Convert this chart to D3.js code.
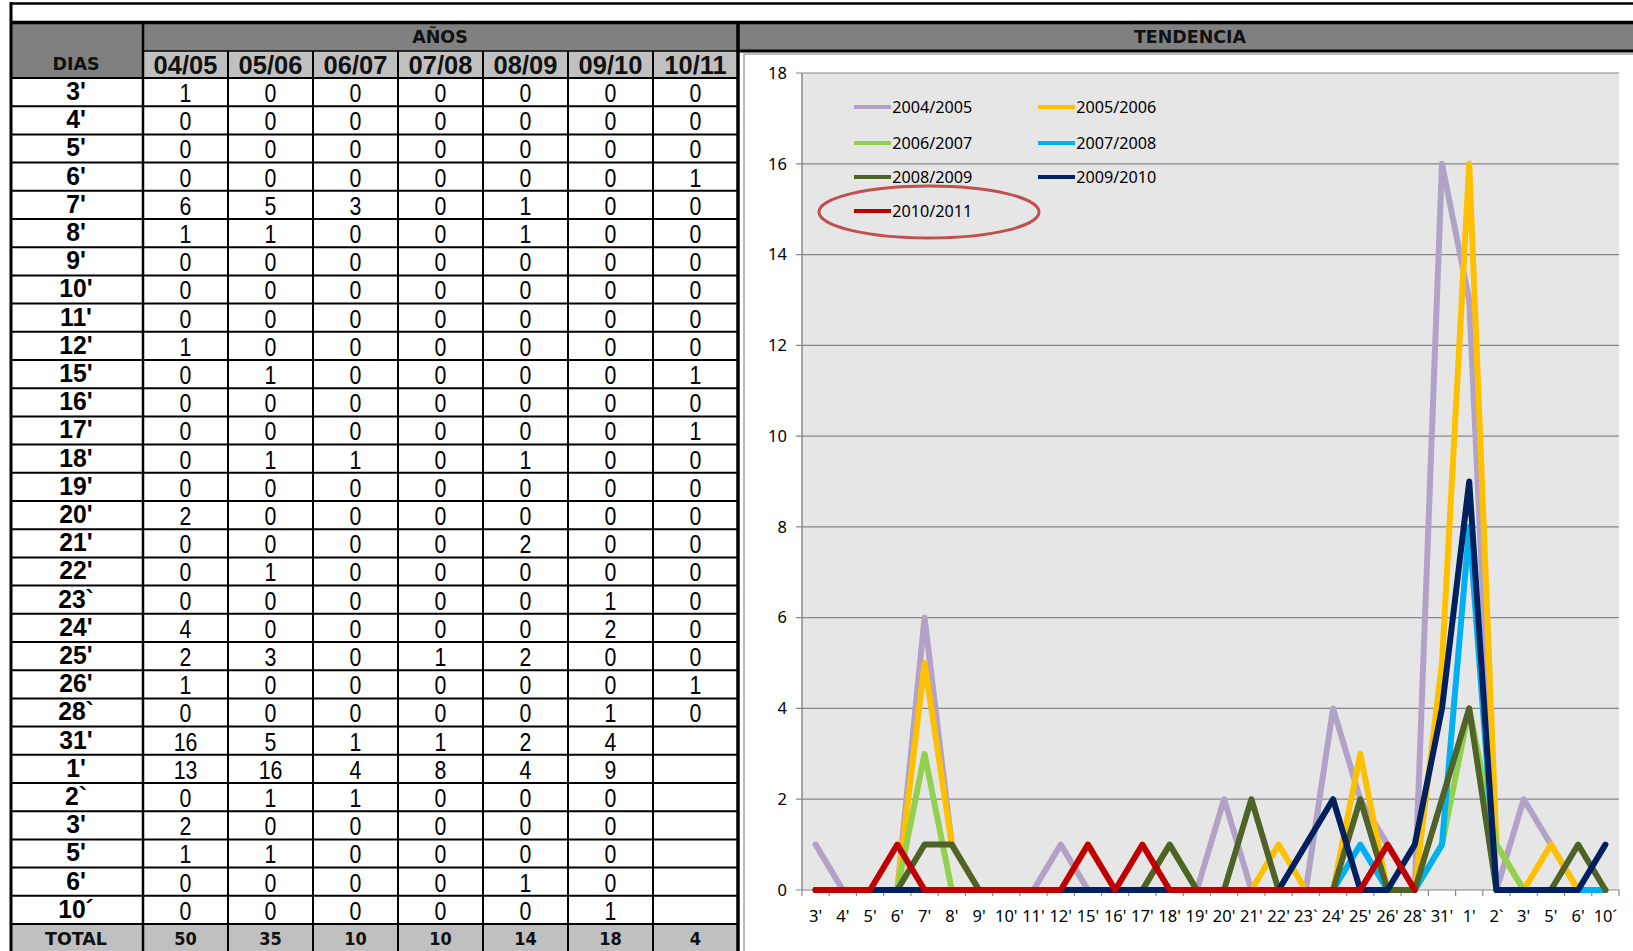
<!DOCTYPE html>
<html>
<head>
<meta charset="utf-8">
<script src="https://cdn.jsdelivr.net/npm/d3@7"></script>
<style>
  body { margin: 0; background: #fff; }
  svg { display: block; }
</style>
</head>
<body>
<svg width="1633" height="951"></svg>
<script>
// table + chart data
var days = ["3'", "4'", "5'", "6'", "7'", "8'", "9'", "10'", "11'", "12'",
            "15'", "16'", "17'", "18'", "19'", "20'", "21'", "22'", "23`", "24'",
            "25'", "26'", "28`", "31'", "1'", "2`", "3'", "5'", "6'", "10´"];
var years = ["04/05", "05/06", "06/07", "07/08", "08/09", "09/10", "10/11"];
var seriesNames = ["2004/2005", "2005/2006", "2006/2007", "2007/2008", "2008/2009", "2009/2010", "2010/2011"];

var y0405 = [1,0,0,0,6,1,0,0,0,1, 0,0,0,0,0,2,0,0,0,4, 2,1,0,16,13,0,2,1,0,0];
var y0506 = [0,0,0,0,5,1,0,0,0,0, 1,0,0,1,0,0,0,1,0,0, 3,0,0,5,16,1,0,1,0,0];
var y0607 = [0,0,0,0,3,0,0,0,0,0, 0,0,0,1,0,0,0,0,0,0, 0,0,0,1,4,1,0,0,0,0];
var y0708 = [0,0,0,0,0,0,0,0,0,0, 0,0,0,0,0,0,0,0,0,0, 1,0,0,1,8,0,0,0,0,0];
var y0809 = [0,0,0,0,1,1,0,0,0,0, 0,0,0,1,0,0,2,0,0,0, 2,0,0,2,4,0,0,0,1,0];
var y0910 = [0,0,0,0,0,0,0,0,0,0, 0,0,0,0,0,0,0,0,1,2, 0,0,1,4,9,0,0,0,0,1];
var y1011 = [0,0,0,1,0,0,0,0,0,0, 1,0,1,0,0,0,0,0,0,0, 0,1,0,null,null,null,null,null,null,null];
var totals = [50, 35, 10, 10, 14, 18, 4];

var series = [y0405, y0506, y0607, y0708, y0809, y0910, y1011];
var colors = ["#b3a2c7", "#ffc000", "#92d050", "#00b0f0", "#4f6228", "#002060", "#c00000"];

var svg = d3.select("svg");
var narrow = "'Liberation Sans', Arial, sans-serif";
var gothic = "'DejaVu Sans', sans-serif";
var calibri = "'Noto Sans', 'Open Sans', sans-serif";

// ---------- table ----------
var col = d3.scaleBand().domain(d3.range(years.length)).range([143, 738]);
var row = d3.scaleBand().domain(d3.range(days.length)).range([78, 924]);

// backgrounds
svg.append("rect").attr("x", 10).attr("y", 24).attr("width", 1623).attr("height", 27).attr("fill", "#808080");
svg.append("rect").attr("x", 10).attr("y", 24).attr("width", 133).attr("height", 54).attr("fill", "#808080");
svg.append("rect").attr("x", 143).attr("y", 51).attr("width", 595).attr("height", 27).attr("fill", "#c0c0c0");
svg.append("rect").attr("x", 10).attr("y", 924).attr("width", 728).attr("height", 27).attr("fill", "#c0c0c0");

// chart panel
svg.append("rect").attr("x", 744).attr("y", 54).attr("width", 900).attr("height", 910)
  .attr("fill", "#fff").attr("stroke", "#a6a6a6").attr("stroke-width", 1.5);

var lines = svg.append("g").attr("stroke", "#000").attr("fill", "none");
// row separators
lines.selectAll(".h").data(d3.range(days.length + 1)).enter().append("line")
  .attr("x1", 10).attr("x2", 738)
  .attr("y1", function(i) { return i < days.length ? row(i) : 924; })
  .attr("y2", function(i) { return i < days.length ? row(i) : 924; })
  .attr("stroke-width", 2);
// column separators
lines.selectAll(".v").data(d3.range(1, years.length)).enter().append("line")
  .attr("x1", function(i) { return col(i); }).attr("x2", function(i) { return col(i); })
  .attr("y1", 51).attr("y2", 951).attr("stroke-width", 2);
lines.append("line").attr("x1", 143).attr("x2", 738).attr("y1", 51).attr("y2", 51).attr("stroke-width", 1.5);
lines.append("line").attr("x1", 143).attr("x2", 143).attr("y1", 22).attr("y2", 951).attr("stroke-width", 2.5);
// heavy borders
lines.append("line").attr("x1", 10).attr("x2", 1633).attr("y1", 3.5).attr("y2", 3.5).attr("stroke-width", 2.5);
lines.append("line").attr("x1", 10).attr("x2", 1633).attr("y1", 22.5).attr("y2", 22.5).attr("stroke-width", 3.5);
lines.append("line").attr("x1", 11).attr("x2", 11).attr("y1", 2).attr("y2", 951).attr("stroke-width", 3);
lines.append("line").attr("x1", 738).attr("x2", 738).attr("y1", 21).attr("y2", 951).attr("stroke-width", 3.5);
lines.append("line").attr("x1", 738).attr("x2", 1633).attr("y1", 51).attr("y2", 51).attr("stroke-width", 3);

// header texts
function headText(label, cx, cy) {
  svg.append("text").attr("text-anchor", "middle").style("font", "bold 18px " + gothic).attr("fill", "#111")
    .attr("transform", "translate(" + cx + "," + cy + ") scale(0.97,1)").text(label);
}
headText("AÑOS", 440, 43);
headText("TENDENCIA", 1190, 43);
headText("DIAS", 76, 70);
headText("TOTAL", 76, 945);

svg.append("g").selectAll("text").data(years).enter().append("text")
  .attr("text-anchor", "middle").style("font", "bold 26px " + narrow).attr("fill", "#111")
  .attr("transform", function(d, i) { return "translate(" + (col(i) + col.bandwidth() / 2) + ",74) scale(0.98,1)"; })
  .text(function(d) { return d; });

// day labels
svg.append("g").selectAll("text").data(days).enter().append("text")
  .attr("text-anchor", "middle").style("font", "bold 26px " + narrow).attr("fill", "#000")
  .attr("transform", function(d, i) { return "translate(76," + (row(i) + 22) + ") scale(0.95,1)"; })
  .text(function(d) { return d; });

// cell values
var cells = [];
series.forEach(function(s, c) {
  s.forEach(function(v, r) { if (v != null) cells.push({ c: c, r: r, v: v }); });
});
svg.append("g").selectAll("text").data(cells).enter().append("text")
  .attr("text-anchor", "middle").style("font", "26px " + narrow).attr("fill", "#000")
  .attr("transform", function(d) {
    return "translate(" + (col(d.c) + col.bandwidth() / 2) + "," + (row(d.r) + 24) + ") scale(0.82,1)";
  })
  .text(function(d) { return d.v; });

svg.append("g").selectAll("text").data(totals).enter().append("text")
  .attr("text-anchor", "middle").style("font", "bold 18px " + gothic).attr("fill", "#111")
  .attr("transform", function(d, i) { return "translate(" + (col(i) + col.bandwidth() / 2) + ",945) scale(0.9,1)"; })
  .text(function(d) { return d; });

// ---------- chart ----------
var x = d3.scaleBand().domain(d3.range(days.length)).range([802, 1619]);
var y = d3.scaleLinear().domain([0, 18]).range([890, 73]);
function xc(i) { return x(i) + x.bandwidth() / 2; }

svg.append("rect").attr("x", 802).attr("y", 73).attr("width", 817).attr("height", 817).attr("fill", "#e6e6e6");

var yTicks = d3.range(0, 19, 2);
var grid = svg.append("g");
grid.selectAll("line").data(yTicks).enter().append("line")
  .attr("x1", 796).attr("x2", 1619)
  .attr("y1", function(d) { return y(d); }).attr("y2", function(d) { return y(d); })
  .attr("stroke", "#878787").attr("stroke-width", 1.2);
grid.append("line").attr("x1", 802).attr("x2", 802).attr("y1", 73).attr("y2", 890)
  .attr("stroke", "#878787").attr("stroke-width", 1.5);
grid.selectAll(".xt").data(d3.range(days.length + 1)).enter().append("line")
  .attr("x1", function(i) { return 802 + i * x.step(); })
  .attr("x2", function(i) { return 802 + i * x.step(); })
  .attr("y1", 890).attr("y2", 896).attr("stroke", "#878787").attr("stroke-width", 1.2);

var yAxis = svg.append("g").attr("transform", "translate(796,0)")
  .call(d3.axisLeft(y).tickValues(yTicks).tickSize(0).tickPadding(9));
yAxis.select(".domain").remove();
yAxis.selectAll("text").style("font", "16.5px " + calibri).attr("fill", "#000");

var xAxis = svg.append("g").attr("transform", "translate(0,906)")
  .call(d3.axisBottom(x).tickSize(0).tickPadding(4).tickFormat(function(i) { return days[i]; }));
xAxis.select(".domain").remove();
xAxis.selectAll("text").style("font", "16.5px " + calibri).attr("fill", "#000");

var line = d3.line()
  .defined(function(d) { return d != null; })
  .x(function(d, i) { return xc(i); })
  .y(function(d) { return y(d); });

svg.append("g").selectAll("path").data(series).enter().append("path")
  .attr("d", line)
  .attr("fill", "none")
  .attr("stroke", function(d, i) { return colors[i]; })
  .attr("stroke-width", 6)
  .attr("stroke-linejoin", "round")
  .attr("stroke-linecap", "round");

// legend
var legendPos = [[854, 107], [1038, 107], [854, 143], [1038, 143], [854, 177], [1038, 177], [854, 211]];
var legend = svg.append("g").selectAll("g").data(seriesNames).enter().append("g")
  .attr("transform", function(d, i) { return "translate(" + legendPos[i][0] + "," + legendPos[i][1] + ")"; });
legend.append("line").attr("x1", 0).attr("x2", 37).attr("y1", 0).attr("y2", 0)
  .attr("stroke", function(d, i) { return colors[i]; }).attr("stroke-width", 4);
legend.append("text").attr("x", 39).attr("y", 6).style("font", "16.5px " + calibri).attr("fill", "#000")
  .attr("transform", "scale(0.98,1)")
  .text(function(d) { return d; });

svg.append("ellipse").attr("cx", 929).attr("cy", 212).attr("rx", 110).attr("ry", 26)
  .attr("fill", "none").attr("stroke", "#c0504d").attr("stroke-width", 3);
</script>
</body>
</html>
